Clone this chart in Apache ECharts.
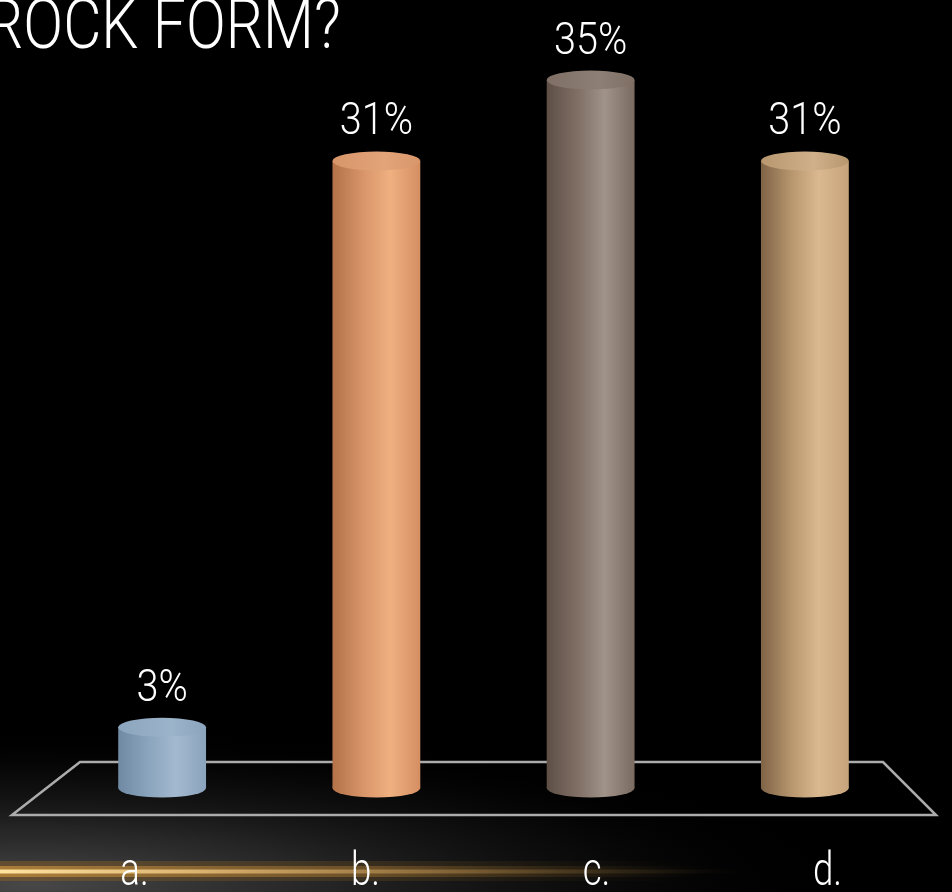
<!DOCTYPE html>
<html>
<head>
<meta charset="utf-8">
<style>
  html, body { margin: 0; padding: 0; background: #000; }
  #chart { width: 952px; height: 892px; }
</style>
<script src="https://cdn.jsdelivr.net/npm/echarts@6/dist/echarts.min.js"></script>
</head>
<body>
<div id="chart"></div>
<script>
// Poll answers
const categories = ['a.', 'b.', 'c.', 'd.'];
const values = [3, 31, 35, 31];
const titleText = 'ROCK FORM?';

// Cylinder shading per answer: [shadow edge, mid, highlight, right edge, top cap]
const shades = [
  ['#6f89a3', '#8ba5be', '#a3b9cf', '#8aa3bc', '#9cb4ca'],
  ['#b47248', '#d8956a', '#f0b080', '#d48e62', '#e2a478'],
  ['#5e4f46', '#7f6f65', '#a0938a', '#7a6a60', '#8d7f76'],
  ['#7e6346', '#b8976f', '#dab990', '#c7a37b', '#cfb08a']
];

const thinFont = 'Roboto, "Open Sans", sans-serif';

const chart = echarts.init(document.getElementById('chart'), null, { renderer: 'canvas' });

// One cylinder per answer: bottom ellipse, body, top cap and the value above it
function renderCylinder(params, api) {
  const idx = params.dataIndex;
  const v = api.value(1);
  const top = api.coord([api.value(0), v]);
  const base = api.coord([api.value(0), 0]);
  const band = api.size([1, 0])[0];
  const rx = band * 0.205;
  const ry = 9.5;
  const cx = top[0];
  const s = shades[idx];
  const bodyFill = new echarts.graphic.LinearGradient(0, 0, 1, 0, [
    { offset: 0, color: s[0] },
    { offset: 0.35, color: s[1] },
    { offset: 0.66, color: s[2] },
    { offset: 1, color: s[3] }
  ]);
  const capFill = new echarts.graphic.LinearGradient(0, 0, 1, 0, [
    { offset: 0, color: s[1] },
    { offset: 0.6, color: s[4] },
    { offset: 1, color: s[1] }
  ]);
  return {
    type: 'group',
    children: [
      { type: 'circle', shape: { cx: 0, cy: 0, r: rx }, x: cx, y: base[1], scaleY: ry / rx,
        style: { fill: bodyFill } },
      { type: 'rect', shape: { x: cx - rx, y: top[1], width: rx * 2, height: base[1] - top[1] },
        style: { fill: bodyFill } },
      { type: 'circle', shape: { cx: 0, cy: 0, r: rx }, x: cx, y: top[1], scaleY: ry / rx,
        style: { fill: capFill } },
      { type: 'text', x: cx, y: top[1] - ry - 28, scaleX: 0.9,
        style: { text: v + '%', fill: '#ffffff', font: '300 44px ' + thinFont,
                 align: 'center', verticalAlign: 'middle' } }
    ]
  };
}

// Category names under the floor, in a narrow light face
function renderCategory(params, api) {
  const p = api.coord([api.value(0), 0]);
  return {
    type: 'text', x: p[0] + 7, y: 873, scaleX: 0.78,
    style: { text: categories[params.dataIndex], fill: '#ffffff', font: '300 47px ' + thinFont,
             align: 'center', verticalAlign: 'middle' }
  };
}

const option = {
  backgroundColor: '#000000',
  animation: false,
  graphic: [
    // soft grey haze in the lower left corner
    { type: 'circle', z: -10, shape: { cx: 0, cy: 0, r: 820 }, x: 30, y: 885, scaleY: 0.19,
      style: { fill: new echarts.graphic.RadialGradient(0.5, 0.5, 0.5, [
        { offset: 0, color: 'rgba(72,72,72,1)' },
        { offset: 0.35, color: 'rgba(45,45,45,0.85)' },
        { offset: 0.7, color: 'rgba(20,20,20,0.5)' },
        { offset: 1, color: 'rgba(0,0,0,0)' }
      ]) } },
    // golden glow strip along the bottom
    { type: 'rect', z: -6, shape: { x: 0, y: 861, width: 952, height: 20 },
      style: { fill: new echarts.graphic.LinearGradient(0, 0, 1, 0, [
        { offset: 0, color: 'rgba(150,100,35,0.45)' },
        { offset: 0.4, color: 'rgba(120,85,30,0.28)' },
        { offset: 0.72, color: 'rgba(80,60,20,0)' },
        { offset: 1, color: 'rgba(0,0,0,0)' }
      ]) } },
    { type: 'rect', z: -5, shape: { x: 0, y: 866, width: 952, height: 11 },
      style: { fill: new echarts.graphic.LinearGradient(0, 0, 1, 0, [
        { offset: 0, color: 'rgba(200,145,60,0.7)' },
        { offset: 0.4, color: 'rgba(170,120,50,0.42)' },
        { offset: 0.74, color: 'rgba(100,75,30,0)' },
        { offset: 1, color: 'rgba(0,0,0,0)' }
      ]) } },
    { type: 'rect', z: -4, shape: { x: 0, y: 869.5, width: 952, height: 4 },
      style: { fill: new echarts.graphic.LinearGradient(0, 0, 1, 0, [
        { offset: 0, color: 'rgba(255,228,160,1)' },
        { offset: 0.2, color: 'rgba(235,195,125,0.85)' },
        { offset: 0.5, color: 'rgba(190,145,80,0.4)' },
        { offset: 0.78, color: 'rgba(120,90,40,0)' },
        { offset: 1, color: 'rgba(0,0,0,0)' }
      ]) } },
    // floor plane under the cylinders
    { type: 'polygon', z: 0,
      shape: { points: [[80, 762], [883, 762], [936, 815], [12, 815]] },
      style: { fill: 'rgba(0,0,0,0)', stroke: '#acacac', lineWidth: 2.5 } },
    { type: 'text', z: 5, x: -14, y: 30, scaleX: 0.84,
      style: { text: titleText, fill: '#ffffff', font: '300 70px ' + thinFont,
               verticalAlign: 'middle' } }
  ],
  grid: [
    { left: 55, right: 40, top: 80, bottom: 104 },
    { left: 12, right: 16, top: 800, height: 15 }
  ],
  xAxis: [
    { type: 'category', gridIndex: 0, data: categories,
      axisLine: { show: false }, axisTick: { show: false }, axisLabel: { show: false } },
    { type: 'category', gridIndex: 1, data: categories,
      axisLine: { show: false }, axisTick: { show: false }, axisLabel: { show: false } }
  ],
  yAxis: [
    { type: 'value', gridIndex: 0, min: 0, max: 35, show: false },
    { type: 'value', gridIndex: 1, show: false }
  ],
  series: [
    { type: 'custom', xAxisIndex: 0, yAxisIndex: 0, renderItem: renderCylinder,
      data: values.map((v, i) => [i, v]), z: 3 },
    { type: 'custom', xAxisIndex: 1, yAxisIndex: 1, renderItem: renderCategory,
      data: categories.map((c, i) => [i, 0]), z: 4 }
  ]
};

chart.setOption(option);
</script>
</body>
</html>
